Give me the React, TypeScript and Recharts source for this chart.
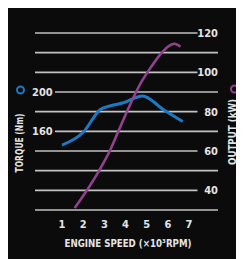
import React from "react";
import { LineChart, Line, XAxis, YAxis, CartesianGrid } from "recharts";

const rpmTicks = [1, 2, 3, 4, 5, 6, 7];
const torqueTicks = [80, 100, 120, 140, 160, 180, 200, 220, 240, 260];
const torqueLabels = [160, 200];
const outputTicks = [40, 60, 80, 100, 120];
const outputGrid = [30, 120];

const torqueRpm = [1.0, 2.0, 2.8, 3.3, 3.9, 4.8, 5.8, 6.7];
const torqueNm = [146, 159, 182, 186, 189, 196, 182, 170];
const outputRpm = [1.6, 2.7, 3.3, 3.7, 4.8, 5.1, 5.6, 6.0, 6.3, 6.6];
const outputKw = [31, 49, 61, 71, 96, 101, 108.5, 113, 114.5, 113];

const torqueData = torqueRpm.map((rpm, i) => ({ rpm, torque: torqueNm[i] }));
const outputData = outputRpm.map((rpm, i) => ({ rpm, output: outputKw[i] }));

const BG = "#0b0b0b";
const FG = "#e4e4e4";
const BLUE = "#1b7ac4";
const PURPLE = "#93408f";
const FONT = "'DejaVu Sans Condensed', 'Liberation Sans Narrow', 'DejaVu Sans', sans-serif";

const LeftTick = (props: any) => {
  const { y, payload } = props;
  if (!torqueLabels.includes(payload.value)) return <g />;
  return (
    <g>
      <rect x={18} y={y - 5} width={29} height={10} fill={BG} />
      <text x={24} y={y} dy="0.36em" fill={FG} fontSize={11} fontWeight="bold" fontFamily={FONT} textAnchor="start">
        {payload.value}
      </text>
    </g>
  );
};

const RightTick = (props: any) => {
  const { y, payload } = props;
  return (
    <g>
      <rect x={189.5} y={y - 5} width={24} height={10} fill={BG} />
      <text x={210} y={y} dy="0.36em" fill={FG} fontSize={11} fontWeight="bold" fontFamily={FONT} textAnchor="end">
        {payload.value}
      </text>
    </g>
  );
};

const BottomTick = (props: any) => {
  const { x, payload } = props;
  return (
    <text x={x} y={220} fill={FG} fontSize={11} fontWeight="bold" fontFamily={FONT} textAnchor="middle">
      {payload.value}
    </text>
  );
};

const XTitle = () => (
  <text x={120} y={239} fill={FG} fontSize={10.5} fontWeight="bold" fontFamily={FONT} textAnchor="middle"
    textLength={127} lengthAdjust="spacingAndGlyphs">
    ENGINE SPEED (×10³RPM)
  </text>
);

const LeftTitle = () => (
  <g>
    <circle cx={12.5} cy={82} r={3.5} fill="none" stroke={BLUE} strokeWidth={2} />
    <text x={11} y={135} transform="rotate(-90, 11, 135)" fill={FG} fontSize={10} fontWeight="bold"
      fontFamily={FONT} textAnchor="middle" dominantBaseline="central" textLength={59} lengthAdjust="spacingAndGlyphs">
      TORQUE (Nm)
    </text>
  </g>
);

const RightTitle = () => (
  <g>
    <circle cx={226.5} cy={81} r={3.5} fill="none" stroke={PURPLE} strokeWidth={2} />
    <text x={224} y={124} transform="rotate(-90, 224, 124)" fill={FG} fontSize={10} fontWeight="bold"
      fontFamily={FONT} textAnchor="middle" dominantBaseline="central" textLength={66} lengthAdjust="spacingAndGlyphs">
      OUTPUT (kW)
    </text>
  </g>
);

export default function App() {
  return (
    <div style={{ position: "relative", left: -1, top: -1, width: 237, height: 252, background: BG }}>
      <div style={{ position: "absolute", left: 1, top: 1 }}>
        <LineChart width={236} height={251} margin={{ top: 25, right: 0, bottom: 0, left: 0 }}>
          <CartesianGrid yAxisId="t" vertical={false} stroke="#c2c2c2" strokeWidth={1.6} />
          <XAxis
            dataKey="rpm"
            type="number"
            domain={[-0.275, 8.37]}
            ticks={rpmTicks}
            allowDataOverflow
            axisLine={false}
            tickLine={false}
            height={49}
            tick={BottomTick}
            label={{ content: XTitle }}
          />
          <YAxis
            yAxisId="t"
            orientation="left"
            type="number"
            domain={[80, 260]}
            ticks={torqueTicks}
            width={27}
            axisLine={false}
            tickLine={false}
            tick={LeftTick}
            interval={0}
            label={{ content: LeftTitle }}
          />
          <YAxis
            yAxisId="p"
            orientation="right"
            type="number"
            domain={outputGrid}
            ticks={outputTicks}
            width={26}
            axisLine={false}
            tickLine={false}
            tick={RightTick}
            interval={0}
            label={{ content: RightTitle }}
          />
          <Line yAxisId="t" data={torqueData} dataKey="torque" type="monotone" stroke={BLUE} strokeWidth={3}
            dot={false} isAnimationActive={false} />
          <Line yAxisId="p" data={outputData} dataKey="output" type="monotone" stroke={PURPLE} strokeWidth={2.6}
            dot={false} isAnimationActive={false} />
        </LineChart>
      </div>
    </div>
  );
}
